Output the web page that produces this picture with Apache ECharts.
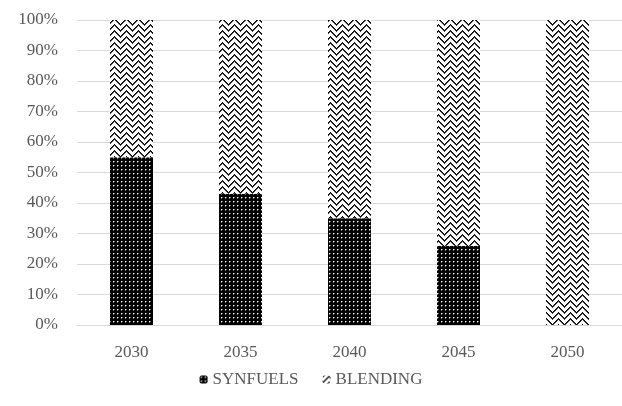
<!DOCTYPE html>
<html><head><meta charset="utf-8">
<script src="https://cdn.jsdelivr.net/npm/echarts@6/dist/echarts.min.js"></script>
<style>html,body{margin:0;padding:0;background:#fff}#c{width:622px;height:406px}</style>
</head><body><div id="c"></div>
<script>
const categories = ['2030','2035','2040','2045','2050'];
const synfuels = [55, 43, 35, 26, 0];
const blending = [45, 57, 65, 74, 100];
const seriesNames = ['SYNFUELS','BLENDING'];

function makeTile(w, h, fn){
  const c = document.createElement('canvas'); c.width=w; c.height=h;
  const ctx = c.getContext('2d');
  const img = ctx.createImageData(w,h);
  for(let y=0;y<h;y++)for(let x=0;x<w;x++){
    const v = fn(x,y); const i=(y*w+x)*4;
    img.data[i]=v;img.data[i+1]=v;img.data[i+2]=v;img.data[i+3]=255;
  }
  ctx.putImageData(img,0,0);
  return c;
}
// dotted dark pattern
const dotTile = makeTile(4,4,(x,y)=>{
  if (x===1&&y===1) return 255;
  if ((x===2&&y===1)||(x===1&&y===2)) return 110;
  return 0;
});
// zigzag pattern
const zzTile = makeTile(12,6,(x,y)=>{
  const t = Math.abs(x-6);
  const m = (((y - t) % 6) + 6) % 6;
  if (m===0) return 0;
  if (m===1) return 60;
  return 255;
});
const dotPattern = {image: dotTile, repeat: 'repeat'};
const zzPattern = {image: zzTile, repeat: 'repeat'};

const font = 'Liberation Serif';
const txt = '#595959';
const chart = echarts.init(document.getElementById('c'), null, {renderer:'canvas'});
chart.setOption({
  animation:false,
  grid:{left:77,right:0,top:20,bottom:81,containLabel:false},
  legend:{bottom:13,left:'center',itemWidth:8,itemHeight:8,itemGap:24,
    textStyle:{fontFamily:font,fontSize:17,color:txt},
    data:seriesNames},
  xAxis:{type:'category',data:categories,
    axisLine:{lineStyle:{color:'#d9d9d9',width:1}},axisTick:{show:false},
    axisLabel:{fontFamily:font,fontSize:17,color:txt,margin:19}},
  yAxis:{type:'value',min:0,max:100,interval:10,
    axisLabel:{formatter:'{value}%',fontFamily:font,fontSize:17,color:txt,margin:19},
    splitLine:{lineStyle:{color:'#d9d9d9',width:1}},axisLine:{show:false},axisTick:{show:false}},
  series:[
    {name:seriesNames[0],type:'bar',stack:'t',data:synfuels,barWidth:43,itemStyle:{color:dotPattern}},
    {name:seriesNames[1],type:'bar',stack:'t',data:blending,barWidth:43,itemStyle:{color:zzPattern}}
  ]
});
</script></body></html>
